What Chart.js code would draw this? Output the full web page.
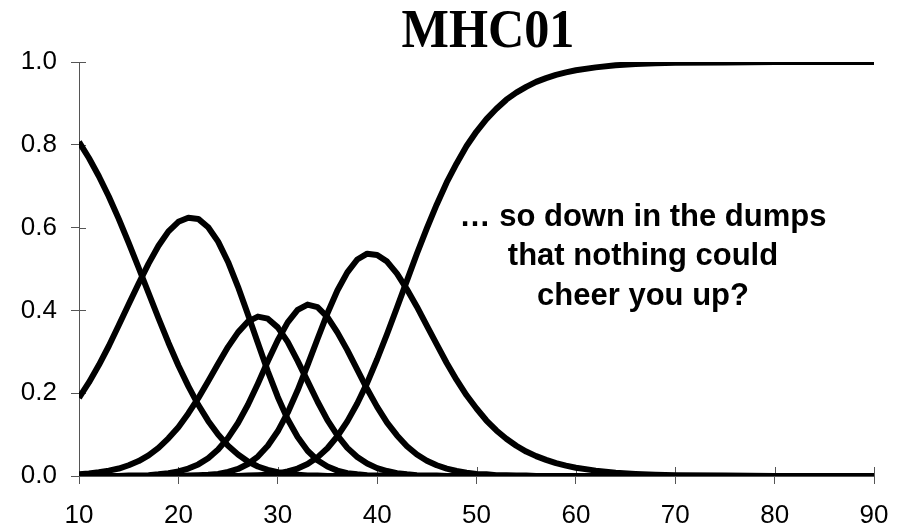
<!DOCTYPE html>
<html><head><meta charset="utf-8">
<script src="https://cdn.jsdelivr.net/npm/chart.js@4/dist/chart.umd.min.js"></script>
<style>html,body{margin:0;padding:0;background:#fff;}canvas{display:block;}</style>
</head><body>
<canvas id="c" width="909" height="532"></canvas>
<script>
const titleText = 'MHC01';
const noteLines = ['\u2026 so down in the dumps', 'that nothing could', 'cheer you up?'];
const xTickValues = [10, 20, 30, 40, 50, 60, 70, 80, 90];
const yTickValues = [0, 0.2, 0.4, 0.6, 0.8, 1.0];

const xValues = [10,11,12,13,14,15,16,17,18,19,20,21,22,23,24,25,26,27,28,29,30,31,32,33,34,35,36,37,38,39,40,
  41,42,43,44,45,46,47,48,49,50,51,52,53,54,55,56,57,58,59,60,62,64,66,68,70,75,80,85,90];

const cat1 = [0.807,0.768,0.724,0.675,0.621,0.563,0.503,0.442,0.381,0.322,0.267,0.217,0.172,0.133,0.100,0.073,0.052,0.035,0.023,0.015,0.009,
  0.005,0.003,0.001,0.001,0,0,0,0,0,0, 0,0,0,0,0,0,0,0,0,0, 0,0,0,0,0,0,0,0,0,0, 0,0,0,0,0,0,0,0,0];
const cat2 = [0.189,0.226,0.268,0.314,0.364,0.415,0.465,0.513,0.556,0.591,0.614,0.624,0.621,0.601,0.566,0.517,0.457,0.390,0.321,0.253,0.191,
  0.137,0.094,0.061,0.038,0.023,0.013,0.007,0.004,0.002,0.001, 0.001,0,0,0,0,0,0,0,0,0, 0,0,0,0,0,0,0,0,0,0, 0,0,0,0,0,0,0,0,0];
const cat3 = [0.004,0.006,0.009,0.013,0.018,0.026,0.036,0.050,0.068,0.091,0.118,0.151,0.188,0.229,0.271,0.312,0.347,0.373,0.385,0.380,0.359,
  0.324,0.278,0.229,0.180,0.135,0.098,0.068,0.046,0.030,0.019, 0.012,0.007,0.004,0.002,0.001,0.001,0,0,0,0, 0,0,0,0,0,0,0,0,0,0, 0,0,0,0,0,0,0,0,0];
const cat4 = [0,0,0,0,0,0.001,0.001,0.002,0.004,0.007,0.011,0.018,0.028,0.043,0.064,0.092,0.128,0.172,0.223,0.277,0.328,
  0.371,0.401,0.414,0.408,0.384,0.347,0.304,0.257,0.210,0.167, 0.129,0.098,0.072,0.052,0.037,0.026,0.018,0.012,0.008,0.005,
  0.004,0.002,0.002,0.001,0.001,0,0,0,0,0, 0,0,0,0,0,0,0,0,0];
const cat5 = [0,0,0,0,0,0,0,0,0,0,0,0.001,0.002,0.003,0.005,0.010,0.017,0.029,0.047,0.073,0.108,
  0.153,0.207,0.268,0.331,0.393,0.448,0.492,0.523,0.537,0.534, 0.518,0.489,0.451,0.409,0.363,0.318,0.273,0.232,0.195,0.163,
  0.134,0.110,0.090,0.073,0.059,0.048,0.039,0.031,0.025,0.020, 0.013,0.008,0.005,0.003,0.002,0.001,0,0,0];
const cat6 = [0,0,0,0,0,0,0,0,0,0,0,0,0,0,0,0,0,0.001,0.002,0.003,0.006,
  0.011,0.018,0.029,0.045,0.067,0.096,0.132,0.175,0.225,0.282, 0.343,0.407,0.472,0.537,0.598,0.656,0.709,0.755,0.797,0.832,
  0.862,0.887,0.909,0.926,0.940,0.952,0.961,0.969,0.975,0.980, 0.987,0.992,0.995,0.997,0.998,0.999,1.0,1.0,1.0];

const seriesList = [cat1, cat2, cat3, cat4, cat5, cat6];
const seriesNames = ['Category 1','Category 2','Category 3','Category 4','Category 5','Category 6'];

const datasets = seriesList.map((arr, i) => ({
  label: seriesNames[i],
  data: arr.map((v, j) => ({x: xValues[j], y: v})),
  borderColor: '#000',
  borderWidth: 6,
  pointRadius: 0,
  tension: 0,
  fill: false,
  borderJoinStyle: 'round'
}));

const axisColor = '#555';

const overlay = {
  id: 'overlay',
  beforeDatasetsDraw(chart) {
    const ctx = chart.ctx, xs = chart.scales.x, ys = chart.scales.y;
    ctx.save();
    ctx.strokeStyle = axisColor; ctx.lineWidth = 1;
    xTickValues.forEach(v => {
      const px = Math.round(xs.getPixelForValue(v)) + 0.5;
      ctx.beginPath(); ctx.moveTo(px, ys.bottom); ctx.lineTo(px, ys.bottom - 9); ctx.stroke();
    });
    yTickValues.forEach(v => {
      const py = Math.round(ys.getPixelForValue(v)) + 0.5;
      ctx.beginPath(); ctx.moveTo(xs.left, py); ctx.lineTo(xs.left + 7, py); ctx.stroke();
    });
    ctx.restore();
  },
  afterDraw(chart) {
    const ctx = chart.ctx;
    ctx.save();
    ctx.fillStyle = '#000';
    ctx.textAlign = 'center';
    ctx.textBaseline = 'alphabetic';
    ctx.save();
    ctx.translate(488, 47);
    ctx.scale(0.913, 1);
    ctx.font = 'bold 55px "Liberation Serif", "Times New Roman", serif';
    ctx.fillText(titleText, 0, 0);
    ctx.restore();
    ctx.font = 'bold 31px "Liberation Sans", Arial, sans-serif';
    const baselines = [226, 265, 305];
    noteLines.forEach((t, i) => ctx.fillText(t, 643, baselines[i]));
    ctx.restore();
  }
};

new Chart(document.getElementById('c'), {
  type: 'line',
  data: { datasets },
  options: {
    responsive: false,
    animation: false,
    devicePixelRatio: 1,
    layout: { padding: { left: 0, top: 62, right: 35, bottom: 0 } },
    plugins: { legend: { display: false }, title: { display: false }, tooltip: { enabled: false } },
    scales: {
      x: {
        type: 'linear', min: 10, max: 90,
        afterFit: s => { s.height = 56; },
        afterBuildTicks: s => { s.ticks = xTickValues.map(v => ({value: v})); },
        ticks: { color: '#000', font: { family: '"Liberation Sans", Arial, sans-serif', size: 26 }, padding: 16, maxRotation: 0, autoSkip: false,
          callback: v => String(v) },
        grid: { display: true, drawOnChartArea: false, drawTicks: true, tickLength: 8, color: axisColor, tickColor: axisColor },
        border: { display: true, color: axisColor, width: 1 }
      },
      y: {
        type: 'linear', min: 0, max: 1,
        afterFit: s => { s.width = 79; },
        afterBuildTicks: s => { s.ticks = yTickValues.map(v => ({value: v})); },
        ticks: { color: '#000', font: { family: '"Liberation Sans", Arial, sans-serif', size: 26 }, padding: 14,
          callback: v => Number(v).toFixed(1) },
        grid: { display: true, drawOnChartArea: false, drawTicks: true, tickLength: 8, color: axisColor, tickColor: axisColor },
        border: { display: true, color: axisColor, width: 1 }
      }
    }
  },
  plugins: [overlay]
});
</script>
</body></html>
